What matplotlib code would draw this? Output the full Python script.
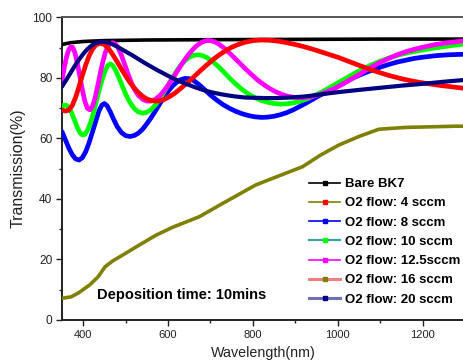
import matplotlib
matplotlib.use("Agg")
import matplotlib.pyplot as plt
from matplotlib.lines import Line2D

plt.rcParams['font.family'] = ['Liberation Sans', 'DejaVu Sans']

# ---- data ----
wl_bk7 = [350, 370, 400, 450, 550, 700, 900, 1100, 1300]
t_bk7 = [91.0, 91.6, 92.0, 92.3, 92.5, 92.6, 92.7, 92.8, 92.8]

wl_4 = [350, 358, 366, 374, 382, 390, 398, 406, 414, 422, 430, 440, 450, 460, 470, 480,
        490, 500, 510, 520, 530, 540, 550, 560, 570, 580, 590, 600, 615, 630, 645, 660,
        675, 690, 705, 720, 735, 750, 765, 780, 800, 820, 840, 860, 880, 900, 920, 940,
        960, 980, 1000, 1030, 1060, 1090, 1120, 1150, 1180, 1210, 1240, 1270, 1300]
t_4 = [69.4, 69.0, 69.3, 70.8, 73.5, 77.0, 80.8, 84.3, 87.3, 89.5, 90.9, 91.4, 91.0, 89.6,
       87.6, 85.3, 82.9, 80.6, 78.5, 76.7, 75.1, 73.9, 73.0, 72.5, 72.3, 72.4, 72.8, 73.5,
       74.8, 76.5, 78.3, 80.2, 82.2, 84.1, 85.9, 87.5, 88.9, 90.1, 91.0, 91.7, 92.3, 92.5,
       92.4, 92.1, 91.6, 91.0, 90.3, 89.5, 88.6, 87.7, 86.8, 85.2, 83.6, 82.1, 80.8, 79.7,
       78.8, 78.1, 77.5, 77.0, 76.5]

wl_8 = [350, 358, 366, 374, 382, 390, 398, 406, 414, 422, 430, 437, 444, 450, 456, 464,
        472, 480, 490, 500, 510, 520, 530, 540, 550, 560, 570, 580, 590, 600, 610, 620,
        630, 640, 650, 660, 670, 680, 690, 700, 715, 730, 745, 760, 775, 790, 805, 820,
        835, 850, 865, 880, 895, 910, 925, 940, 955, 970, 985, 1000, 1020, 1040, 1060,
        1080, 1100, 1120, 1140, 1160, 1180, 1200, 1230, 1260, 1300]
t_8 = [62.2, 59.5, 56.8, 54.6, 53.2, 52.8, 53.6, 55.6, 58.6, 62.2, 65.9, 69.0, 71.0, 71.5,
       70.8, 68.7, 66.2, 63.9, 61.9, 60.9, 60.6, 60.9, 61.7, 63.0, 64.8, 66.8, 69.0, 71.3,
       73.5, 75.5, 77.2, 78.5, 79.4, 79.8, 79.7, 79.1, 78.1, 76.9, 75.6, 74.3, 72.6, 71.1,
       69.9, 68.9, 68.1, 67.5, 67.1, 66.9, 67.0, 67.3, 67.8, 68.5, 69.4, 70.5, 71.6, 72.8,
       74.0, 75.2, 76.4, 77.5, 78.9, 80.2, 81.4, 82.5, 83.5, 84.4, 85.2, 85.8, 86.4, 86.8,
       87.3, 87.6, 87.8]

wl_10 = [350, 356, 362, 368, 374, 380, 386, 392, 398, 404, 410, 417, 424, 431, 438, 445,
         452, 458, 464, 470, 477, 485, 493, 501, 510, 520, 530, 540, 550, 560, 570, 580,
         590, 600, 610, 620, 630, 640, 650, 660, 670, 680, 690, 700, 715, 730, 745, 760,
         775, 790, 805, 820, 835, 850, 865, 880, 895, 910, 925, 940, 955, 970, 985, 1000,
         1020, 1040, 1060, 1080, 1100, 1120, 1140, 1160, 1180, 1200, 1230, 1260, 1300]
t_10 = [70.7, 71.0, 70.8, 69.8, 68.0, 65.8, 63.6, 61.9, 61.1, 61.3, 62.6, 65.0, 68.3, 72.2,
        76.1, 79.6, 82.4, 84.1, 84.6, 84.0, 82.3, 79.8, 77.0, 74.3, 71.9, 69.9, 68.7, 68.3,
        68.6, 69.5, 71.0, 72.9, 75.2, 77.6, 80.0, 82.2, 84.2, 85.7, 86.8, 87.4, 87.6, 87.4,
        86.8, 85.9, 84.2, 82.1, 79.9, 77.9, 76.1, 74.6, 73.4, 72.5, 71.9, 71.5, 71.3, 71.4,
        71.7, 72.2, 72.9, 73.8, 74.8, 75.9, 77.1, 78.3, 79.9, 81.5, 83.0, 84.3, 85.5, 86.5,
        87.4, 88.1, 88.7, 89.2, 89.9, 90.5, 91.2]

wl_125 = [350, 355, 360, 365, 370, 375, 380, 386, 392, 398, 404, 410, 416, 422, 428, 434,
          440, 446, 452, 458, 464, 470, 476, 482, 490, 498, 506, 514, 522, 530, 540, 550,
          560, 570, 580, 590, 600, 610, 620, 630, 640, 650, 660, 670, 680, 690, 700, 710,
          720, 735, 750, 765, 780, 795, 810, 825, 840, 855, 870, 885, 900, 915, 930, 945,
          960, 975, 990, 1005, 1020, 1040, 1060, 1080, 1100, 1120, 1140, 1160, 1180, 1200,
          1230, 1260, 1300]
t_125 = [79.3, 83.0, 86.5, 89.0, 90.2, 90.1, 88.5, 85.0, 80.5, 76.0, 72.2, 69.9, 69.4, 70.6,
         73.4, 77.2, 81.3, 85.2, 88.3, 90.4, 91.4, 91.6, 91.2, 90.0, 87.5, 84.3, 81.1, 78.2,
         75.9, 74.2, 72.9, 72.3, 72.3, 72.9, 74.0, 75.6, 77.5, 79.6, 81.8, 84.0, 86.1, 88.0,
         89.6, 90.9, 91.8, 92.3, 92.3, 91.9, 91.1, 89.5, 87.5, 85.4, 83.3, 81.3, 79.4, 77.8,
         76.4, 75.3, 74.4, 73.8, 73.5, 73.4, 73.6, 74.0, 74.6, 75.4, 76.3, 77.4, 78.6, 80.2,
         81.9, 83.6, 85.1, 86.4, 87.6, 88.6, 89.4, 90.1, 91.0, 91.6, 92.3]

wl_16 = [350, 372, 390, 415, 435, 452, 470, 493, 532, 572, 611, 640, 674, 729, 807, 860,
         917, 960, 1003, 1050, 1097, 1160, 1220, 1278, 1300]
t_16 = [7.1, 7.6, 9.0, 11.5, 14.2, 17.6, 19.5, 21.4, 24.7, 28.0, 30.6, 32.2, 34.1, 38.5,
        44.6, 47.5, 50.6, 54.5, 57.8, 60.6, 63.0, 63.6, 63.8, 64.0, 64.0]

wl_20 = [350, 360, 370, 380, 390, 400, 410, 420, 430, 440, 450, 460, 470, 480, 490, 500,
         515, 530, 545, 560, 575, 590, 605, 620, 635, 650, 665, 680, 700, 720, 740, 760,
         780, 800, 830, 860, 890, 920, 950, 980, 1010, 1050, 1100, 1150, 1200, 1250, 1300]
t_20 = [77.1, 79.3, 81.6, 83.9, 86.0, 87.9, 89.5, 90.7, 91.5, 91.9, 91.9, 91.6, 91.0, 90.3,
        89.5, 88.7, 87.5, 86.2, 84.9, 83.7, 82.5, 81.4, 80.3, 79.3, 78.4, 77.6, 76.8, 76.1,
        75.3, 74.7, 74.2, 73.8, 73.5, 73.4, 73.3, 73.3, 73.5, 73.8, 74.3, 74.9, 75.4, 76.0,
        76.7, 77.4, 78.0, 78.7, 79.3]

legend_labels = ["Bare BK7", "O2 flow: 4 sccm", "O2 flow: 8 sccm", "O2 flow: 10 sccm",
                 "O2 flow: 12.5sccm", "O2 flow: 16 sccm", "O2 flow: 20 sccm"]

W, H = 463, 364
fig = plt.figure(figsize=(W / 100, H / 100), dpi=100)
ax = fig.add_axes([62 / W, 1 - 319.8 / H, 403 / W, 302.5 / H])

kw = dict(solid_joinstyle='round', solid_capstyle='round', zorder=3)
ax.plot(wl_bk7, t_bk7, color='black', lw=2.6, **kw)
ax.plot(wl_16, t_16, color='#808000', lw=2.6, **kw)
ax.plot(wl_8, t_8, color='#0000ff', lw=3.4, **kw)
ax.plot(wl_10, t_10, color='#00ff00', lw=3.4, **kw)
ax.plot(wl_125, t_125, color='#ff00ff', lw=3.4, **kw)
ax.plot(wl_4, t_4, color='#ff0000', lw=3.4, **kw)
ax.plot(wl_20, t_20, color='#000080', lw=3.0, **kw)

ax.set_xlim(350, 1300)
ax.set_ylim(0, 100)
ax.set_xticks([400, 600, 800, 1000, 1200])
ax.set_xticks([500, 700, 900, 1100], minor=True)
ax.set_yticks([0, 20, 40, 60, 80, 100])
ax.set_yticks([10, 30, 50, 70, 90], minor=True)
ax.tick_params(axis='both', which='major', direction='out', length=4, width=1, colors='#222222')
ax.tick_params(axis='both', which='minor', direction='out', length=2.5, width=1, colors='#222222')
ax.tick_params(axis='x', labelsize=8, pad=3.5)
ax.tick_params(axis='y', labelsize=8.6, pad=3)
for s in ['left', 'bottom']:
    ax.spines[s].set_linewidth(1.4)
    ax.spines[s].set_color('#222222')
ax.spines['top'].set_linewidth(1.4)
ax.spines['top'].set_color('#555555')
ax.spines['right'].set_visible(False)

ax.set_xlabel("Wavelength(nm)", fontsize=10.3, color='#222222', labelpad=4)
ax.set_ylabel("Transmission(%)", fontsize=11.5, color='#222222', labelpad=5)

ax.text(0.087, 0.082, "Deposition time: 10mins", transform=ax.transAxes,
        fontsize=10.5, fontweight='bold', va='center', ha='left')

line_cols = ['black', '#808000', '#0000ff', '#3aa39b', '#ff00ff', '#f08080', '#7070b8']
mark_cols = ['black', '#ff0000', '#0000ff', '#00ff00', '#ff00ff', '#808000', '#000080']
line_ws = [1.2, 1.2, 1.2, 1.6, 1.2, 2.2, 2.2]
handles = [Line2D([], [], color=lc, lw=lw, marker='s', markersize=2.5,
                  markerfacecolor=mc, markeredgecolor=mc)
           for lc, mc, lw in zip(line_cols, mark_cols, line_ws)]
leg = ax.legend(handles, legend_labels, loc='upper left',
                bbox_to_anchor=(309 / W, 1 - 178 / H), bbox_transform=fig.transFigure,
                frameon=False, fontsize=9.5, handlelength=2.35, handletextpad=0.38,
                labelspacing=0.53, borderpad=0, borderaxespad=0)
for t in leg.get_texts():
    t.set_fontweight('bold')

fig.savefig("out.png", dpi=100)
